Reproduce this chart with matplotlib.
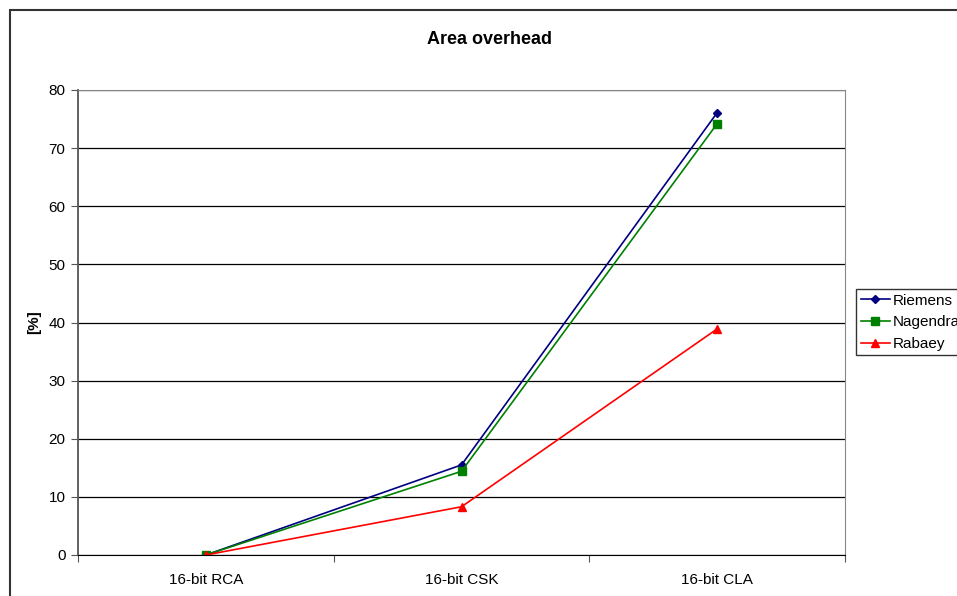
import matplotlib
matplotlib.use("Agg")
import matplotlib.pyplot as plt
from matplotlib.patches import Rectangle

plt.rcParams["font.family"] = ["Liberation Sans", "DejaVu Sans"]

categories = ["16-bit RCA", "16-bit CSK", "16-bit CLA"]
riemens = [0.0, 15.5, 76.1]
nagendra = [0.0, 14.4, 74.2]
rabaey = [0.0, 8.3, 38.9]
yticks = [0, 10, 20, 30, 40, 50, 60, 70, 80]

fig = plt.figure(figsize=(9.57, 5.96), dpi=100)
ax = fig.add_axes([78 / 957, 1 - 555 / 596, (845 - 78) / 957, (555 - 90) / 596])

# outer chart border (runs off the right/bottom edge like the original)
fig.patches.append(Rectangle((10 / 957, -0.1), 1.2, 1 - 10 / 596 + 0.1,
                             transform=fig.transFigure, fill=False,
                             edgecolor="#333333", linewidth=1.5, zorder=0))

x = [0.5, 1.5, 2.5]
ax.plot(x, riemens, "-", color="#000080", marker="D", markersize=4.5, lw=1.2, label="Riemens")
ax.plot(x, nagendra, "-", color="#008000", marker="s", markersize=5.5, lw=1.2, label="Nagendra")
ax.plot(x, rabaey, "-", color="#FF0000", marker="^", markersize=5.5, lw=1.2, label="Rabaey")

ax.set_xlim(0, 3)
ax.set_ylim(0, 80)
ax.set_yticks(yticks)
ax.set_xticks([0, 1, 2, 3])
ax.set_xticklabels([])
ax.set_xticks(x, minor=True)
ax.set_xticklabels(categories, minor=True, fontsize=11)
ax.tick_params(axis="x", which="minor", length=0, pad=13)
ax.tick_params(axis="x", which="major", length=5, direction="out", color="#555555")
ax.tick_params(axis="y", length=5, direction="out", color="#555555", labelsize=11, pad=4)
ax.yaxis.grid(True, color="black", lw=0.9)
ax.set_axisbelow(True)

for side in ("top", "right"):
    ax.spines[side].set_color("#888888")
ax.spines["left"].set_color("#555555")
ax.spines["left"].set_linewidth(1.3)
ax.spines["bottom"].set_color("black")

fig.text(490 / 957, 1 - 40 / 596, "Area overhead", ha="center", va="center",
         fontsize=13, fontweight="bold")
fig.text(34 / 957, 1 - 322 / 596, "[%]", ha="center", va="center",
         rotation=90, fontsize=11, fontweight="bold")

# legend sits at the right edge and is clipped there, as in the original
leg = fig.legend(loc="upper left", bbox_to_anchor=(856 / 957, 1 - 289 / 596),
                 fontsize=11, frameon=True, fancybox=False, borderpad=0.3,
                 labelspacing=0.5, handlelength=1.9, handletextpad=0.2,
                 borderaxespad=0)
leg.get_frame().set_edgecolor("black")
leg.get_frame().set_linewidth(1.0)

fig.savefig("out.png", dpi=100)
